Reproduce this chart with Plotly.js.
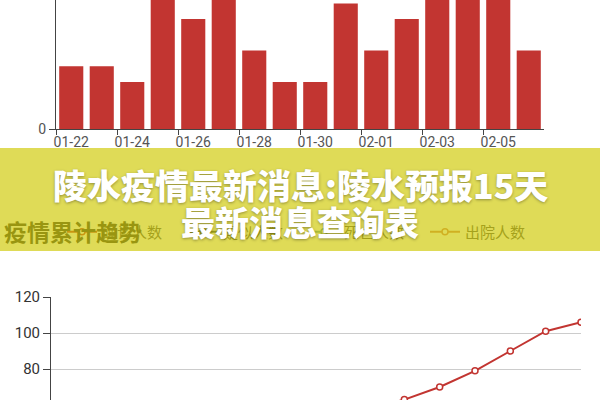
<!DOCTYPE html>
<html>
<head>
<meta charset="utf-8">
<script src="https://cdn.plot.ly/plotly-3.0.1.min.js"></script>
<style>html,body{margin:0;padding:0;background:#fff;}#chart{width:600px;height:400px;}</style>
</head>
<body>
<div id="chart"></div>
<script>
// dates (categories)
var dates = ['01-22','01-23','01-24','01-25','01-26','01-27','01-28','01-29','01-30','01-31','02-01','02-02','02-03','02-04','02-05','02-06'];
// daily new cases (top bar chart)
var dailyNew = [4, 4, 3, 10, 7, 11, 5, 3, 3, 8, 5, 7, 9, 11, 11, 5];
// cumulative trend (bottom line chart)
var confirmed = [4, 8, 11, 21, 28, 39, 44, 47, 50, 58, 63, 70, 79, 90, 101, 106];
var suspected = [2, 3, 5, 6, 8, 9, 9, 10, 10, 11, 11, 12, 12, 13, 13, 14];
var deaths    = [0, 0, 0, 0, 0, 0, 0, 0, 0, 0, 0, 0, 0, 0, 1, 1];
var recovered = [0, 0, 0, 0, 0, 1, 1, 2, 3, 4, 6, 8, 10, 13, 16, 20];
var seriesNames = ['确诊人数', '疑似人数', '死亡人数', '出院人数'];
var seriesColors = ['#c23531', '#2f4554', '#61a0a8', '#d48265'];
var trendTitle = '疫情累计趋势';
var bannerLine1 = '陵水疫情最新消息:陵水预报15天';
var bannerLine2 = '最新消息查询表';

var W = 600, H = 400;
function px(x){ return x / W; }
function py(y){ return 1 - y / H; }

var traces = [{
  type: 'bar', x: dates, y: dailyNew, xaxis: 'x', yaxis: 'y',
  marker: {color: '#c23531'}, showlegend: false, hoverinfo: 'skip'
}];
var lineData = [confirmed, suspected, deaths, recovered];
for (var i = 0; i < lineData.length; i++) {
  traces.push({
    type: 'scatter', mode: 'lines+markers', x: dates, y: lineData[i],
    xaxis: 'x2', yaxis: 'y2', name: seriesNames[i],
    line: {color: seriesColors[i], width: 2},
    marker: {symbol: 'circle', size: 6, color: '#fff', line: {color: seriesColors[i], width: 1.5}},
    cliponaxis: true, hoverinfo: 'skip'
  });
}

var axisFont = {family: 'Roboto, sans-serif', size: 14, color: '#555'};
var layout = {
  width: W, height: H,
  margin: {l: 0, r: 0, t: 0, b: 0},
  paper_bgcolor: '#fff', plot_bgcolor: 'rgba(0,0,0,0)',
  bargap: 0.21,
  showlegend: true,
  hovermode: false,
  xaxis: {
    domain: [px(56), px(544)], anchor: 'y', type: 'category',
    range: [-0.5, dates.length - 0.5],
    showline: true, linecolor: '#444', linewidth: 1,
    ticks: 'outside', ticklen: 5, tickcolor: '#444', tickson: 'boundaries',
    tickmode: 'linear', tick0: 0, dtick: 2, tickangle: 0,
    showgrid: false, zeroline: false, tickfont: axisFont
  },
  yaxis: {
    domain: [py(129), 1], anchor: 'x',
    range: [0, 129 / 15.7],
    showline: true, linecolor: '#444', linewidth: 1,
    ticks: 'outside', ticklen: 6, tickcolor: '#444',
    tickmode: 'linear', tick0: 0, dtick: 10,
    showgrid: false, zeroline: false, tickfont: axisFont
  },
  xaxis2: {
    domain: [px(51), px(581)], anchor: 'y2', type: 'category',
    range: [0, dates.length - 1], visible: false
  },
  yaxis2: {
    domain: [0, py(297)], anchor: 'x2',
    range: [120 - 103 / 1.8, 120],
    showline: true, linecolor: '#444', linewidth: 1,
    ticks: 'outside', ticklen: 7, tickcolor: '#444',
    tickmode: 'linear', tick0: 0, dtick: 20,
    showgrid: true, gridcolor: '#ccc', gridwidth: 1, zeroline: false,
    tickfont: {family: 'Roboto, sans-serif', size: 15, color: '#333'}
  },
  legend: {
    orientation: 'h', x: px(62), xanchor: 'left', y: py(232), yanchor: 'middle',
    font: {family: '"Noto Sans CJK SC", sans-serif', size: 15, color: '#555'},
    itemwidth: 30, entrywidth: 76, bgcolor: 'rgba(0,0,0,0)', borderwidth: 0,
    traceorder: 'normal'
  },
  annotations: [
    {
      xref: 'paper', yref: 'paper', x: px(2), y: py(231), xanchor: 'left', yanchor: 'middle',
      showarrow: false, text: trendTitle,
      font: {family: '"Noto Sans CJK SC", sans-serif', size: 23, color: '#333', weight: 'bold'}
    },
    {
      xref: 'paper', yref: 'paper', x: 0.5, y: py(199.5), xanchor: 'center', yanchor: 'middle',
      showarrow: false, text: ' ', width: 600, height: 103, borderpad: 0, borderwidth: 0,
      bgcolor: 'rgba(206,201,0,0.66)'
    },
    {
      xref: 'paper', yref: 'paper', x: 0.5, y: py(184), xanchor: 'center', yanchor: 'middle',
      showarrow: false, text: bannerLine1,
      font: {family: '"Noto Sans CJK SC", sans-serif', size: 34, color: '#fff', weight: 900,
             shadow: '0px 1px 3px rgba(0,0,0,0.35)'}
    },
    {
      xref: 'paper', yref: 'paper', x: 0.5, y: py(221.5), xanchor: 'center', yanchor: 'middle',
      showarrow: false, text: bannerLine2,
      font: {family: '"Noto Sans CJK SC", sans-serif', size: 34, color: '#fff', weight: 900,
             shadow: '0px 1px 3px rgba(0,0,0,0.35)'}
    }
  ]
};

Plotly.newPlot('chart', traces, layout, {displayModeBar: false, staticPlot: true});
</script>
</body>
</html>
